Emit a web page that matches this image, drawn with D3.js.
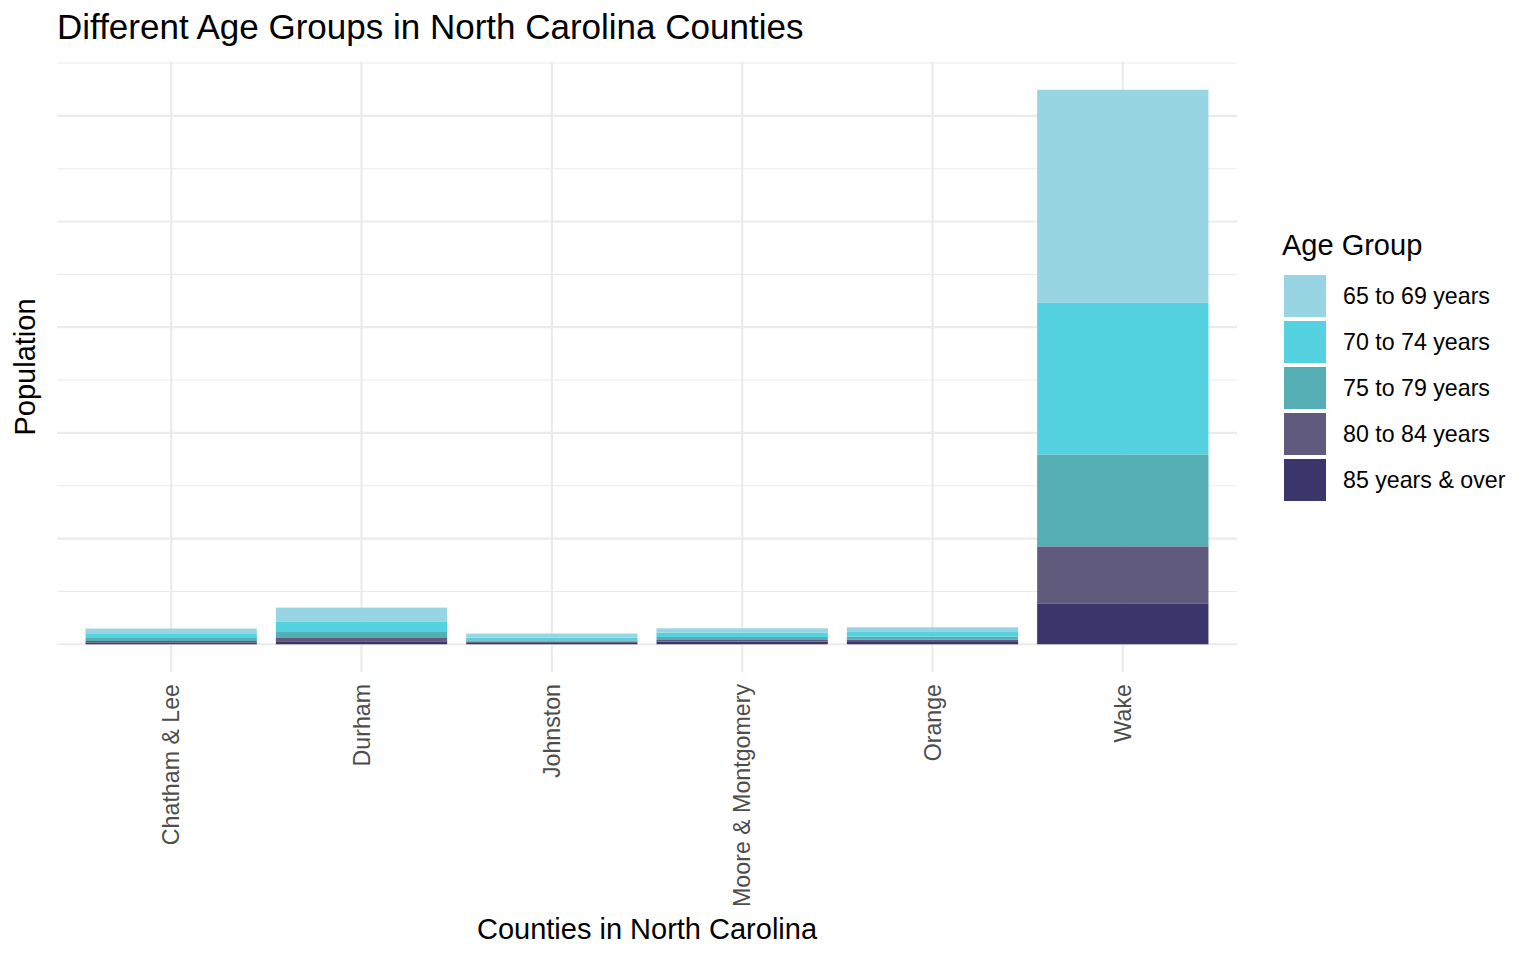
<!DOCTYPE html>
<html>
<head>
<meta charset="utf-8">
<script src="https://cdn.jsdelivr.net/npm/d3@7"></script>
<style>
  html, body { margin: 0; padding: 0; background: #ffffff; }
  svg { display: block; font-family: "Liberation Sans", Arial, Helvetica, sans-serif; }
</style>
</head>
<body>
<svg id="chart" width="1536" height="960"></svg>
<script>
// ---- Data ----
const counties = ["Chatham & Lee", "Durham", "Johnston", "Moore & Montgomery", "Orange", "Wake"];
const ageGroups = ["65 to 69 years", "70 to 74 years", "75 to 79 years", "80 to 84 years", "85 years & over"];
const ageColors = ["#96D5E1", "#55D2E0", "#54AEB3", "#605A7D", "#3A366B"];
const age65to69 = [890, 2590, 760, 810, 890, 40270];
const age70to74 = [890, 2020, 510, 830, 870, 28740];
const age75to79 = [570, 1130, 300, 570, 570, 17400];
const age80to84 = [300, 620, 190, 300, 450, 10780];
const age85plus = [320, 570, 260, 510, 430, 7750];
const chartTitle = "Different Age Groups in North Carolina Counties";
const xTitle = "Counties in North Carolina";
const yTitle = "Population";
const legendTitle = "Age Group";

// ---- Build table ----
const seriesArrays = [age65to69, age70to74, age75to79, age80to84, age85plus];
const rows = counties.map((c, i) => {
  const r = { county: c };
  ageGroups.forEach((g, j) => { r[g] = seriesArrays[j][i]; });
  return r;
});

const svg = d3.select("#chart");
const panel = { left: 57, right: 1237, top: 62, bottom: 672 };

const x = d3.scaleBand()
  .domain(counties)
  .range([panel.left, panel.right])
  .paddingInner(0.1)
  .paddingOuter(0.15);

const maxTotal = d3.max(rows, r => d3.sum(ageGroups, g => r[g]));
const pad = maxTotal * 0.05;
const y = d3.scaleLinear()
  .domain([-pad, maxTotal + pad])
  .range([panel.bottom, panel.top]);

const color = d3.scaleOrdinal().domain(ageGroups).range(ageColors);

// ---- Gridlines ----
const majorStep = 20000;
const majors = d3.range(0, maxTotal + pad, majorStep);
const minors = d3.range(majorStep / 2, maxTotal + pad, majorStep);

const grid = svg.append("g");
grid.selectAll("line.minor").data(minors).join("line")
  .attr("class", "minor")
  .attr("x1", panel.left).attr("x2", panel.right)
  .attr("y1", d => y(d)).attr("y2", d => y(d))
  .attr("stroke", "#EBEBEB").attr("stroke-width", 1.1);
grid.selectAll("line.major").data(majors).join("line")
  .attr("class", "major")
  .attr("x1", panel.left).attr("x2", panel.right)
  .attr("y1", d => y(d)).attr("y2", d => y(d))
  .attr("stroke", "#EBEBEB").attr("stroke-width", 2.2);
grid.selectAll("line.vmajor").data(counties).join("line")
  .attr("class", "vmajor")
  .attr("x1", d => x(d) + x.bandwidth() / 2).attr("x2", d => x(d) + x.bandwidth() / 2)
  .attr("y1", panel.top).attr("y2", panel.bottom)
  .attr("stroke", "#EBEBEB").attr("stroke-width", 2.2);

// ---- Stacked bars ----
const stackKeys = ageGroups.slice().reverse(); // bottom: 85+, top: 65-69
const stacked = d3.stack().keys(stackKeys)(rows);

svg.append("g").selectAll("g").data(stacked).join("g")
  .attr("fill", d => color(d.key))
  .selectAll("rect").data(d => d).join("rect")
  .attr("x", d => x(d.data.county))
  .attr("width", x.bandwidth())
  .attr("y", d => y(d[1]))
  .attr("height", d => y(d[0]) - y(d[1]));

// ---- X axis (labels only) ----
const xAxis = d3.axisBottom(x).tickSize(0).tickPadding(0);
const xg = svg.append("g").attr("transform", `translate(0,${panel.bottom})`).call(xAxis);
xg.select(".domain").remove();
xg.selectAll(".tick text")
  .attr("transform", "translate(0,12) rotate(-90)")
  .attr("x", 0).attr("y", 0).attr("dy", "0.35em")
  .attr("text-anchor", "end")
  .attr("fill", "#4D4D4D")
  .style("font-size", "23.2px")
  .style("font-family", "'Liberation Sans', Arial, sans-serif");

// ---- Titles ----
svg.append("text")
  .attr("x", 57).attr("y", 39)
  .attr("font-size", 35).attr("fill", "#000")
  .text(chartTitle);

svg.append("text")
  .attr("x", (panel.left + panel.right) / 2).attr("y", 939)
  .attr("text-anchor", "middle")
  .attr("font-size", 29).attr("fill", "#000")
  .text(xTitle);

svg.append("text")
  .attr("transform", `translate(35,${(panel.top + panel.bottom) / 2 + 0}) rotate(-90)`)
  .attr("text-anchor", "middle")
  .attr("font-size", 29).attr("fill", "#000")
  .text(yTitle);

// ---- Legend ----
const lg = svg.append("g");
lg.append("text")
  .attr("x", 1282).attr("y", 255)
  .attr("font-size", 29).attr("fill", "#000")
  .text(legendTitle);

const keyTop = 275, keyStep = 46, keySize = 42;
const items = lg.selectAll("g.item").data(ageGroups).join("g")
  .attr("class", "item")
  .attr("transform", (d, i) => `translate(1284,${keyTop + i * keyStep})`);
items.append("rect")
  .attr("width", keySize).attr("height", keySize)
  .attr("fill", d => color(d));
items.append("text")
  .attr("x", 59).attr("y", keySize / 2).attr("dy", "0.35em")
  .attr("font-size", 23.2).attr("fill", "#000")
  .text(d => d);
</script>
</body>
</html>
